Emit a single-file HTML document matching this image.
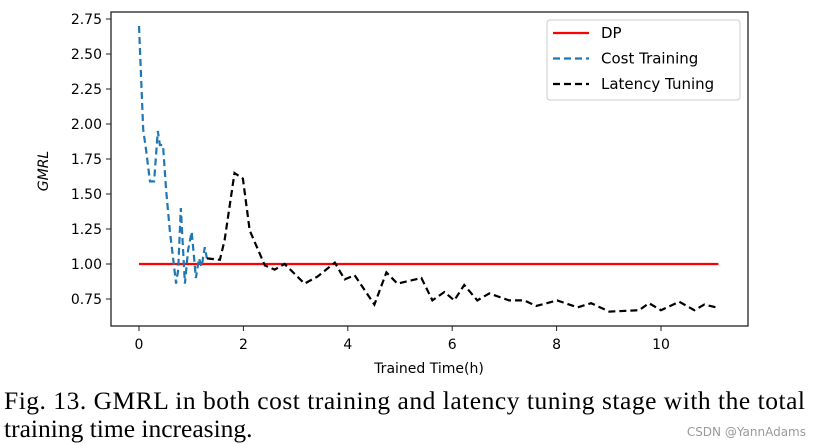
<!DOCTYPE html>
<html><head><meta charset="utf-8">
<style>
html,body{margin:0;padding:0;background:#fff;}
svg{display:block;}
.cap{font-family:"Liberation Serif","Times New Roman",serif;}
</style></head>
<body>
<svg id="chart" width="813" height="445" xmlns="http://www.w3.org/2000/svg" font-family="'DejaVu Sans', 'Liberation Sans', sans-serif">
</svg>
<script>
const xTicks = [0, 2, 4, 6, 8, 10];
const yTicks = [0.75, 1.00, 1.25, 1.50, 1.75, 2.00, 2.25, 2.50, 2.75];
const dpX = [0, 11.1];
const dpY = [1.0, 1.0];
const costX = [0,0.08,0.13,0.21,0.29,0.36,0.40,0.46,0.52,0.59,0.71,0.75,0.80,0.88,0.94,1.01,1.09,1.15,1.20,1.26,1.30];
const costY = [2.70,1.96,1.83,1.59,1.59,1.95,1.85,1.85,1.53,1.24,0.86,0.96,1.40,0.86,1.10,1.23,0.90,1.04,0.98,1.12,1.04];
const latX = [1.30,1.55,1.64,1.83,1.99,2.12,2.41,2.60,2.79,3.17,3.42,3.75,3.94,4.13,4.51,4.74,4.95,5.41,5.62,5.85,6.04,6.23,6.48,6.71,7.09,7.38,7.61,8.01,8.40,8.66,9.01,9.58,9.77,10.0,10.35,10.64,10.83,11.06];
const latY = [1.04,1.03,1.17,1.65,1.61,1.24,0.99,0.96,1.00,0.86,0.91,1.01,0.89,0.92,0.71,0.94,0.86,0.90,0.74,0.80,0.74,0.85,0.74,0.79,0.74,0.74,0.70,0.74,0.69,0.72,0.66,0.67,0.72,0.67,0.73,0.67,0.71,0.69];

const NS = "http://www.w3.org/2000/svg";
const svg = document.getElementById('chart');
const L = 111, R = 748, T = 12, B = 326;
function sx(v){ return 139 + v * 52.2; }
function sy(v){ return 264 - (v - 1) * 140; }
function mk(tag, attrs, parent){
  const e = document.createElementNS(NS, tag);
  for (const k in attrs) e.setAttribute(k, attrs[k]);
  (parent || svg).appendChild(e);
  return e;
}

const frame = mk('rect', {x:L, y:T, width:R-L, height:B-T, fill:'none', stroke:'#222', 'stroke-width':1.3});



xTicks.forEach(v => {
  const g = mk('g', {});
  
  
  mk('line', {x1:sx(v), x2:sx(v), y1:B, y2:B+5, stroke:'#222', 'stroke-width':1}, g);
  const t = mk('text', {x:sx(v), y:B+23, 'text-anchor':'middle', 'font-size':14, fill:'#000'}, g);
  t.textContent = String(v);
});
yTicks.forEach(v => {
  const g = mk('g', {});
  
  
  mk('line', {x1:L-5, x2:L, y1:sy(v), y2:sy(v), stroke:'#222', 'stroke-width':1}, g);
  const t = mk('text', {x:L-9, y:sy(v)+5, 'text-anchor':'end', 'font-size':14, fill:'#000'}, g);
  t.textContent = v.toFixed(2);
});

const xt = mk('text', {x:429, y:373, 'text-anchor':'middle', 'font-size':14, fill:'#000'});


xt.textContent = 'Trained Time(h)';
const yt = mk('text', {x:0, y:0, 'text-anchor':'middle', 'font-size':14, 'font-style':'italic', fill:'#000', transform:'translate(48,171) rotate(-90)'});


yt.textContent = 'GMRL';

function pts(xs, ys){ return xs.map((x,i)=>sx(x).toFixed(1)+','+sy(ys[i]).toFixed(1)).join(' '); }

const dp = mk('polyline', {points:pts(dpX, dpY), fill:'none', stroke:'#ff0000', 'stroke-width':2.2});


const cost = mk('polyline', {points:pts(costX, costY), fill:'none', stroke:'#1f77b4', 'stroke-width':2.2, 'stroke-dasharray':'7,4'});


const lat = mk('polyline', {points:pts(latX, latY), fill:'none', stroke:'#000', 'stroke-width':2.2, 'stroke-dasharray':'7,4'});



const lg = mk('g', {});


mk('rect', {x:547, y:20, width:193, height:80, rx:3, fill:'#fff', stroke:'#ccc', 'stroke-width':1}, lg);
const entries = [['DP','#ff0000',null],['Cost Training','#1f77b4','7,4'],['Latency Tuning','#000','7,4']];
entries.forEach((e,i) => {
  const y = 33 + i*25.5;
  const g = mk('g', {}, lg);
  
  
  const a = {x1:553, x2:589, y1:y, y2:y, stroke:e[1], 'stroke-width':2.2};
  if (e[2]) a['stroke-dasharray'] = e[2];
  mk('line', a, g);
  const t = mk('text', {x:601, y:y+5, 'font-size':15, fill:'#000'}, g);
  t.textContent = e[0];
});

const c1 = mk('text', {x:4, y:409, 'font-size':25.5, fill:'#000', 'class':'cap', textLength:801, lengthAdjust:'spacing'});


c1.textContent = 'Fig. 13.  GMRL in both cost training and latency tuning stage with the total';
const c2 = mk('text', {x:4, y:437, 'font-size':25.5, fill:'#000', 'class':'cap'});


c2.textContent = 'training time increasing.';
const wm = mk('text', {x:806, y:436, 'text-anchor':'end', 'font-size':12, fill:'#999'});


wm.textContent = 'CSDN @YannAdams';
</script>
</body></html>
